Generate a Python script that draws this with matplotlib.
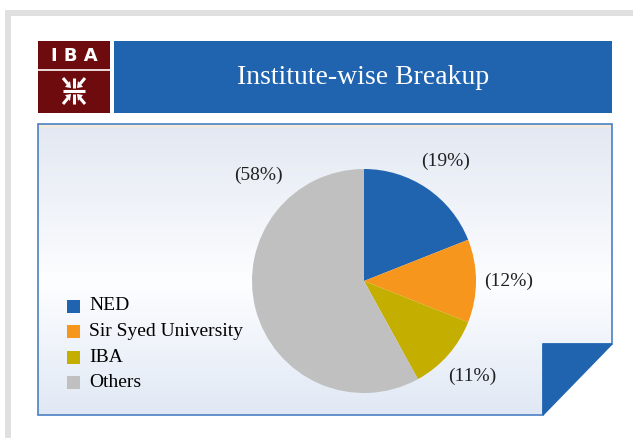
import numpy as np
import matplotlib
matplotlib.use("Agg")
from matplotlib import pyplot as plt
from matplotlib.patches import Rectangle, Polygon

# data
institutes = ["NED", "Sir Syed University", "IBA", "Others"]
shares = [19, 12, 11, 58]
pct_labels = ["(19%)", "(12%)", "(11%)", "(58%)"]
colors = ["#2064b0", "#f7961c", "#c4ae00", "#c0c0c0"]
title = "Institute-wise Breakup"

W, H = 633, 438
plt.rcParams['font.family'] = ['Liberation Serif', 'DejaVu Serif']

fig = plt.figure(figsize=(W / 100, H / 100), dpi=100)
fig.patch.set_facecolor("white")

# background axes in pixel coordinates
bg = fig.add_axes([0, 0, 1, 1])
bg.set_xlim(0, W)
bg.set_ylim(H, 0)
bg.axis("off")

# light gray outer frame (top + left)
bg.add_patch(Rectangle((5, 10), W, 6, color="#e0e0e0", lw=0))
bg.add_patch(Rectangle((5, 10), 6, H, color="#e0e0e0", lw=0))

# logo
bg.add_patch(Rectangle((38, 41), 72, 72, color="#6d0b0e", lw=0))
bg.plot([38, 110], [70, 70], color="white", lw=1.2)
bg.text(74, 56, "I B A", color="white", fontsize=13, fontweight="bold",
        family="DejaVu Sans", ha="center", va="center")
cx, cy = 74, 91
wl = dict(color="white", lw=2.2, solid_capstyle="butt")
bg.plot([cx - 11, cx + 11], [cy, cy], **wl)
bg.plot([cx, cx], [cy - 13, cy - 3], **wl)
bg.plot([cx, cx], [cy + 3, cy + 13], **wl)
for sx in (-1, 1):
    for sy in (-1, 1):
        # diagonal shaft
        bg.plot([cx + sx * 11, cx + sx * 6], [cy + sy * 13, cy + sy * 7], **wl)
        # inward arrow head
        tip = (cx + sx * 3, cy + sy * 3)
        bg.add_patch(Polygon([tip, (cx + sx * 9, cy + sy * 4), (cx + sx * 4, cy + sy * 10)],
                             closed=True, fc="white", ec="none"))

# title banner
bg.add_patch(Rectangle((114, 41), 498, 72, color="#2064b0", lw=0))
bg.text(363, 77, title, color="white", fontsize=20, ha="center", va="center")

# chart panel with gradient
panel = [(38, 124), (612, 124), (612, 344), (543, 344), (543, 415), (38, 415)]
grad = np.linspace(0, 1, 256)[:, None]
top = np.array([0.89, 0.91, 0.95])
mid = np.array([0.99, 0.995, 1.0])
bot = np.array([0.88, 0.91, 0.96])
img = np.where(grad < 0.55,
               top[None, :] + (mid - top)[None, :] * (grad / 0.55),
               mid[None, :] + (bot - mid)[None, :] * ((grad - 0.55) / 0.45))
img[:3] = [0.96, 0.92, 0.86]
img = img[:, None, :]
im = bg.imshow(img, extent=(38, 612, 415, 124), aspect="auto", zorder=1)
clip = Polygon(panel, closed=True, transform=bg.transData, fc="none", ec="none")
bg.add_patch(clip)
im.set_clip_path(clip)
bg.add_patch(Polygon(panel, closed=True, fc="none", ec="#4a80c4", lw=1.2, zorder=3))
# folded corner
bg.add_patch(Polygon([(543, 344), (612, 344), (543, 415)], closed=True,
                     fc="#2064b0", ec="#2064b0", lw=1, zorder=3))

# legend
for i, (name, c) in enumerate(zip(institutes, colors)):
    y = 306 + i * 25.5
    bg.add_patch(Rectangle((67, y - 6.5), 13, 13, color=c, lw=0, zorder=4))
    bg.text(89, y, name, fontsize=14, va="center", ha="left", color="black", zorder=4)

# pie
r_px = 112
pcx, pcy = 364, 281
ax = fig.add_axes([(pcx - r_px) / W, (H - pcy - r_px) / H, 2 * r_px / W, 2 * r_px / H])
wedges, _ = ax.pie(shares, colors=colors, startangle=90, counterclock=False,
                   wedgeprops=dict(linewidth=0))
ax.set_xlim(-1, 1)
ax.set_ylim(-1, 1)
ax.set_aspect("equal")
ax.axis("off")

for i, (w, lab) in enumerate(zip(wedges, pct_labels)):
    ang = np.deg2rad((w.theta1 + w.theta2) / 2)
    dist = 1.29
    if i == 3:
        ang = np.deg2rad(135)
        dist = 1.33
    ax.text(dist * np.cos(ang), dist * np.sin(ang), lab, fontsize=14,
            ha="center", va="center", color="#222222", clip_on=False)

fig.savefig("out.png", dpi=100)
